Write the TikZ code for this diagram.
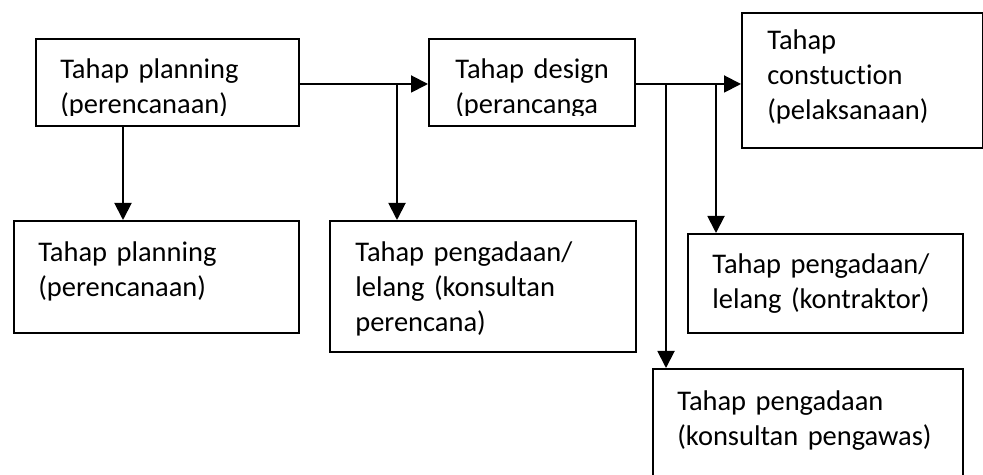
\documentclass[tikz,border=0pt]{standalone}
\usepackage{fontspec}
\setmainfont{Carlito}[Ligatures=NoCommon]
\usepackage{tikz}
\usetikzlibrary{positioning,arrows.meta,calc}

\tikzset{
  box/.style={draw, line width=1.1pt, inner sep=0pt, anchor=north west},
  txt/.style={anchor=base west, align=left, inner sep=0pt, text width=6cm,
              font=\fontsize{16.2pt}{19.8pt}\selectfont},
  arr/.style={-{Triangle[length=0.34cm,width=0.34cm]}, line width=1.1pt}
}

\begin{document}
\begin{tikzpicture}
\useasboundingbox (0,0) rectangle (19.66,9.5);

%%% top row
\node[box, minimum width=5.26cm, minimum height=1.74cm] (plan)   at (0.70,8.74) {};
\node[box, minimum width=4.12cm, minimum height=1.74cm] (design) at (8.56,8.74) {};
\node[box, minimum width=4.82cm, minimum height=2.70cm] (build)  at (14.82,9.26) {};

%%% bottom row
\node[box, minimum width=5.70cm, minimum height=2.24cm] (plan2)   at (0.26,5.10) {};
\node[box, minimum width=6.12cm, minimum height=2.62cm] (lelang1) at (6.58,5.10) {};
\node[box, minimum width=5.50cm, minimum height=1.98cm] (lelang2) at (13.74,4.84) {};
\node[box, minimum width=6.20cm, minimum height=2.22cm] (awas)    at (13.04,2.14) {};

%%% texts (the first two are cut off at the bottom)
\begin{scope}
\clip (plan.north west) rectangle ([yshift=0.23cm]plan.south east);
\node[txt] (tplan) at ([shift={(0.5,-0.82)}]plan.north west) {Tahap planning\\(perencanaan)};
\end{scope}
\begin{scope}
\clip (design.north west) rectangle ([yshift=0.23cm]design.south east);
\node[txt] (tdesign) at ([shift={(0.54,-0.82)}]design.north west) {Tahap design\\(perancanga};
\end{scope}
\node[txt] (tbuild)   at ([shift={(0.52,-0.76)}]build.north west) {Tahap\\constuction\\(pelaksanaan)};
\node[txt] (tplan2)   at ([shift={(0.50,-0.84)}]plan2.north west) {Tahap planning\\(perencanaan)};
\node[txt] (tlelang1) at ([shift={(0.52,-0.84)}]lelang1.north west) {Tahap pengadaan/\\lelang (konsultan\\perencana)};
\node[txt] (tlelang2) at ([shift={(0.50,-0.82)}]lelang2.north west) {Tahap pengadaan/\\lelang (kontraktor)};
\node[txt] (tawas)    at ([shift={(0.50,-0.86)}]awas.north west) {Tahap pengadaan\\(konsultan pengawas)};

%%% connectors
\coordinate (j0) at (2.46,0);
\coordinate (j1) at (7.94,7.82);
\coordinate (j2) at (13.32,7.82);
\coordinate (j3) at (14.32,7.82);

\draw[arr] (plan.south -| j0) -- (plan2.north -| j0);
\draw[arr] (plan.east |- j1) -- (design.west |- j1);
\draw[arr] (j1) -- (j1 |- lelang1.north);
\draw[arr] (design.east |- j1) -- (build.west |- j1);
\draw[arr] (j2) -- (j2 |- awas.north);
\draw[arr] (j3) -- (j3 |- lelang2.north);

\end{tikzpicture}
\end{document}
